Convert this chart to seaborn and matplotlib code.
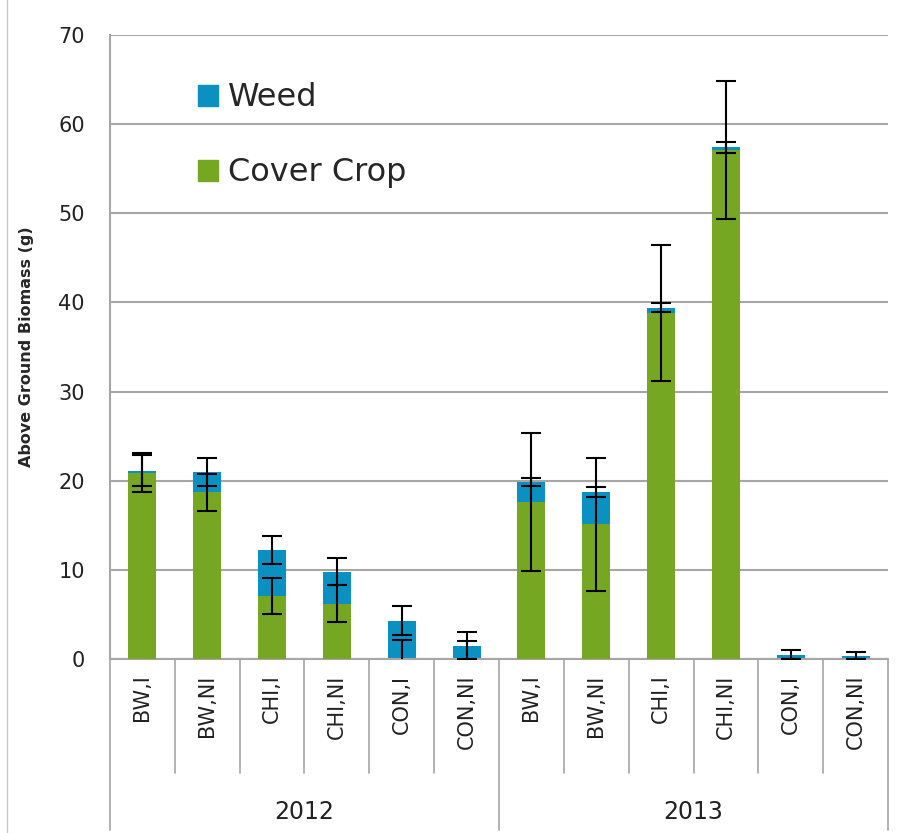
import pandas as pd
import numpy as np
import seaborn as sns
import matplotlib.pyplot as plt
from matplotlib.lines import Line2D
from matplotlib.patches import Patch

years = ["2012"] * 6 + ["2013"] * 6
treatments = ["BW,I", "BW,NI", "CHI,I", "CHI,NI", "CON,I", "CON,NI"] * 2
cover_crop = [20.9, 18.7, 7.1, 6.2, 0.0, 0.0, 17.6, 15.1, 38.8, 57.1, 0.0, 0.0]
weed = [0.2, 2.3, 5.1, 3.6, 4.3, 1.5, 2.2, 3.6, 0.6, 0.3, 0.5, 0.3]
cover_err = [2.2, 2.1, 2.0, 2.1, 2.1, 2.05, 7.7, 7.5, 7.6, 7.7, 0.0, 0.0]
weed_err = [1.75, 1.55, 1.6, 1.5, 1.65, 1.5, 0.45, 0.55, 0.5, 0.6, 0.5, 0.5]

green = "#76a723"
blue = "#0a91c1"

df = pd.DataFrame({
    "id": [y + " " + t for y, t in zip(years, treatments)],
    "year": years,
    "treatment": treatments,
    "cover": cover_crop,
    "weed": weed,
})
df["total"] = df["cover"] + df["weed"]

sns.set_style("white")
plt.rcParams["font.family"] = ["DejaVu Sans"]

fig = plt.figure(figsize=(9.11, 8.33), dpi=100)
ax = fig.add_axes([0.1207, 0.2089, 0.8541, 0.7491])

# stacked bars: total (weed on top) first, then cover crop over it
sns.barplot(data=df, x="id", y="total", color=blue, width=0.43,
            saturation=1, linewidth=0, ax=ax, zorder=2)
sns.barplot(data=df, x="id", y="cover", color=green, width=0.43,
            saturation=1, linewidth=0, ax=ax, zorder=3)

pos = np.arange(len(df))
ax.errorbar(pos, df["cover"], yerr=cover_err, fmt="none", ecolor="black",
            elinewidth=1.5, capsize=7, capthick=1.5, zorder=4)
ax.errorbar(pos, df["total"], yerr=weed_err, fmt="none", ecolor="black",
            elinewidth=1.5, capsize=7, capthick=1.5, zorder=4)

ax.set_ylim(0, 70)
ax.set_xlim(-0.5, len(df) - 0.5)
ax.set_yticks(range(0, 71, 10))
ax.yaxis.grid(True, color="#a6a6a6", linewidth=1.5, zorder=0)
ax.set_axisbelow(True)
ax.tick_params(axis="y", direction="out", length=6, width=1.2, color="#a6a6a6",
               labelsize=15, labelcolor="#222222", pad=12)
ax.tick_params(axis="x", length=0)
ax.set_xticks(pos)
ax.set_xticklabels([])
for s in ["top", "right", "bottom"]:
    ax.spines[s].set_visible(False)
ax.spines["left"].set_color("#a6a6a6")
ax.spines["left"].set_linewidth(1.5)
ax.patch.set_edgecolor("none")

ax.set_xlabel("")
ax.set_ylabel("Above Ground Biomass (g)", fontsize=11.5, fontweight="bold")
ax.yaxis.set_label_coords(-0.097, 0.5)

# category labels and separators below the axis
trans = ax.get_xaxis_transform()
for i, t in enumerate(treatments):
    ax.text(i, -0.025, t, rotation=90, ha="center", va="top", fontsize=15,
            color="#222222", transform=trans)
ax.plot([-0.5, len(df) - 0.5], [0, 0], color="#a6a6a6", lw=1.5,
        transform=trans, clip_on=False)
for b in np.arange(-0.5, len(df), 1.0):
    low = -0.274 if b in (-0.5, 5.5, 11.5) else -0.183
    ax.plot([b, b], [0, low], color="#a6a6a6", lw=1.2, transform=trans,
            clip_on=False)
for j, yr in enumerate(["2012", "2013"]):
    ax.text(j * 6 + 2.5, -0.245, yr, ha="center", va="center", fontsize=17,
            color="#222222", transform=trans)

handles = [Patch(color=blue, label="Weed"), Patch(color=green, label="Cover Crop")]
ax.legend(handles=handles, loc="upper left", bbox_to_anchor=(0.113, 0.924),
          frameon=False, fontsize=23, handlelength=0.63, handleheight=0.63,
          labelspacing=1.38, handletextpad=0.31, borderpad=0, borderaxespad=0)

fig.add_artist(Line2D([0.008, 0.008], [0.0, 1.0], color="#c8c8c8", lw=1))

fig.savefig("out.png", dpi=100)
